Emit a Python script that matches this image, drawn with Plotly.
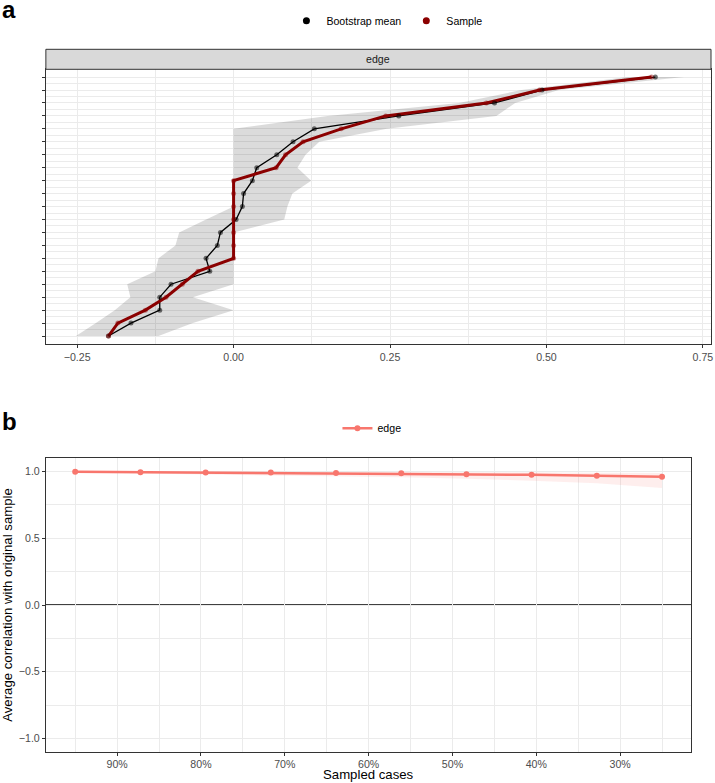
import plotly.graph_objects as go

W, H = 715, 783

# ---------------- Panel a data (edges sorted by sample value) ----------------
rows = list(range(1, 22))
sample = [0.668, 0.489, 0.404, 0.243, 0.172, 0.111, 0.083, 0.068, 0.0, 0.0, 0.0,
          0.0, 0.0, 0.0, 0.0, -0.057, -0.082, -0.108, -0.141, -0.185, -0.200]
boot_mean = [0.674, 0.493, 0.417, 0.264, 0.129, 0.095, 0.069, 0.037, 0.030, 0.016, 0.014,
             0.004, -0.021, -0.026, -0.044, -0.038, -0.100, -0.118, -0.118, -0.164, -0.200]
ci_low = [0.63, 0.46, 0.36, 0.15, 0.0, 0.0, 0.0, 0.0, 0.0, 0.0, 0.0,
          -0.044, -0.087, -0.093, -0.12, -0.125, -0.17, -0.165, -0.19, -0.22, -0.252]
ci_high = [0.72, 0.52, 0.45, 0.42, 0.245, 0.137, 0.115, 0.102, 0.124, 0.094, 0.086,
           0.081, 0.0, 0.0, 0.0, 0.0, 0.0, -0.065, 0.0, -0.065, -0.12]
xa_ticks = [-0.25, 0.0, 0.25, 0.5, 0.75]
xa_labels = ["\u22120.25", "0.00", "0.25", "0.50", "0.75"]

# ---------------- Panel b data (case-dropping stability) ----------------
sampled = [0.95, 0.8722, 0.7944, 0.7167, 0.6389, 0.5611, 0.4833, 0.4056, 0.3278, 0.25]
corr_mean = [0.999, 0.996, 0.994, 0.993, 0.989, 0.987, 0.981, 0.976, 0.970, 0.961]
corr_low = [0.993, 0.987, 0.981, 0.975, 0.967, 0.958, 0.946, 0.932, 0.912, 0.878]
corr_high = [1.0, 1.0, 0.999, 0.999, 0.998, 0.998, 0.997, 0.996, 0.994, 0.990]
xb_ticks = [0.9, 0.8, 0.7, 0.6, 0.5, 0.4, 0.3]
xb_labels = ["90%", "80%", "70%", "60%", "50%", "40%", "30%"]
yb_ticks = [-1.0, -0.5, 0.0, 0.5, 1.0]
yb_labels = ["\u22121.0", "\u22120.5", "0.0", "0.5", "1.0"]

FONT = "Liberation Sans, Arial, Helvetica, sans-serif"
GRID = "#EBEBEB"
BORDER = "#333333"
TICKC = "#4D4D4D"
SALMON = "#F8766D"
DARKRED = "#8B0000"


def fx(p):
    return p / W


def fy(p):
    return 1 - p / H


fig = go.Figure()

# ribbon a
fig.add_trace(go.Scatter(
    x=ci_low + ci_high[::-1], y=rows + rows[::-1], fill="toself",
    fillcolor="rgba(0,0,0,0.14)", line=dict(width=0), mode="lines",
    hoverinfo="skip", showlegend=False, xaxis="x", yaxis="y"))
fig.add_trace(go.Scatter(x=boot_mean, y=rows, mode="lines",
                         line=dict(color="black", width=1.3), showlegend=False,
                         xaxis="x", yaxis="y"))
fig.add_trace(go.Scatter(x=sample, y=rows, mode="lines",
                         line=dict(color=DARKRED, width=3), showlegend=False,
                         xaxis="x", yaxis="y"))
fig.add_trace(go.Scatter(x=boot_mean, y=rows, mode="markers",
                         marker=dict(color="rgba(0,0,0,0.55)", size=5), showlegend=False,
                         xaxis="x", yaxis="y"))
fig.add_trace(go.Scatter(x=sample, y=rows, mode="markers",
                         marker=dict(color="rgba(139,0,0,0.45)", size=5), showlegend=False,
                         xaxis="x", yaxis="y"))
# legend entries a
fig.add_trace(go.Scatter(x=[None], y=[None], mode="markers", name="Bootstrap mean",
                         marker=dict(color="black", size=7), legend="legend",
                         xaxis="x", yaxis="y"))
fig.add_trace(go.Scatter(x=[None], y=[None], mode="markers", name="Sample",
                         marker=dict(color=DARKRED, size=7), legend="legend",
                         xaxis="x", yaxis="y"))

# ribbon b
fig.add_trace(go.Scatter(
    x=sampled + sampled[::-1], y=corr_low + corr_high[::-1], fill="toself",
    fillcolor="rgba(248,118,109,0.12)", line=dict(width=0), mode="lines",
    hoverinfo="skip", showlegend=False, xaxis="x2", yaxis="y2"))
fig.add_trace(go.Scatter(x=sampled, y=corr_mean, mode="lines+markers", name="edge",
                         line=dict(color=SALMON, width=2.5),
                         marker=dict(color=SALMON, size=6),
                         legend="legend2", xaxis="x2", yaxis="y2"))

axis_common = dict(showline=True, mirror=True, linecolor=BORDER, linewidth=1,
                   gridcolor=GRID, gridwidth=1, zeroline=False,
                   ticks="outside", ticklen=3, tickcolor=BORDER, tickwidth=1,
                   ticklabeloverflow="allow",
                   tickfont=dict(family=FONT, size=10.6, color=TICKC))

fig.update_layout(
    width=W, height=H, margin=dict(l=0, r=0, t=0, b=0),
    paper_bgcolor="white", plot_bgcolor="white",
    font=dict(family=FONT, color="black"),
    xaxis=dict(domain=[fx(46), fx(713)], anchor="y", range=[-0.300, 0.763],
               tickmode="array", tickvals=xa_ticks, ticktext=xa_labels,
               minor=dict(tickmode="array", tickvals=[-0.125, 0.125, 0.375, 0.625],
                          showgrid=True, gridcolor=GRID, gridwidth=0.6, ticks=""),
               **axis_common),
    yaxis=dict(domain=[fy(343.8), fy(69.3)], anchor="x", range=[21.6, 0.4],
               tickmode="array", tickvals=rows, showticklabels=False,
               minor=dict(tickmode="array", tickvals=[r + 0.5 for r in rows[:-1]],
                          showgrid=True, gridcolor=GRID, gridwidth=0.6, ticks=""),
               **axis_common),
    xaxis2=dict(domain=[fx(46), fx(693.3)], anchor="y2", range=[0.985, 0.215],
                tickmode="array", tickvals=xb_ticks, ticktext=xb_labels,
                minor=dict(tickmode="array",
                           tickvals=[0.95, 0.85, 0.75, 0.65, 0.55, 0.45, 0.35, 0.25],
                           showgrid=True, gridcolor=GRID, gridwidth=0.6, ticks=""),
                **axis_common),
    yaxis2=dict(domain=[fy(751.7), fy(458.3)], anchor="x2", range=[-1.1, 1.1],
                tickmode="array", tickvals=yb_ticks, ticktext=yb_labels,
                minor=dict(tickmode="array", tickvals=[-0.75, -0.25, 0.25, 0.75],
                           showgrid=True, gridcolor=GRID, gridwidth=0.6, ticks=""),
                title=dict(text="Average correlation with original sample",
                           font=dict(family=FONT, size=13.2, color="black"), standoff=4),
                **axis_common),
    legend=dict(orientation="h", x=fx(388), xanchor="center", y=fy(20.7), yanchor="middle",
                font=dict(family=FONT, size=10.6, color="black"), bgcolor="rgba(0,0,0,0)",
                itemwidth=30, tracegroupgap=0),
    legend2=dict(orientation="h", x=fx(373), xanchor="center", y=fy(428.3), yanchor="middle",
                 font=dict(family=FONT, size=10.6, color="black"), bgcolor="rgba(0,0,0,0)",
                 itemwidth=30),
    shapes=[
        dict(type="rect", xref="paper", yref="paper", x0=fx(46), x1=fx(713),
             y0=fy(69.3), y1=fy(49.3), fillcolor="#D9D9D9",
             line=dict(color=BORDER, width=1), layer="above"),
        dict(type="line", xref="x2 domain", yref="y2", x0=0, x1=1, y0=0, y1=0,
             line=dict(color="black", width=1.5), layer="below"),
    ],
    annotations=[
        dict(text="edge", xref="paper", yref="paper", x=fx(379.5), y=fy(59.3),
             xanchor="center", yanchor="middle", showarrow=False,
             font=dict(family=FONT, size=10.6, color="#1A1A1A")),
        dict(text="Sampled cases", xref="paper", yref="paper", x=fx(369.6), y=0,
             xanchor="center", yanchor="bottom", showarrow=False, borderpad=0,
             font=dict(family=FONT, size=13.2, color="black")),
        dict(text="<b>a</b>", xref="paper", yref="paper", x=0, y=fy(9.5), xanchor="left",
             yanchor="middle", showarrow=False, font=dict(family=FONT, size=24, color="black")),
        dict(text="<b>b</b>", xref="paper", yref="paper", x=0, y=fy(422), xanchor="left",
             yanchor="middle", showarrow=False, font=dict(family=FONT, size=24, color="black")),
    ],
)

fig.write_html("out.html")
